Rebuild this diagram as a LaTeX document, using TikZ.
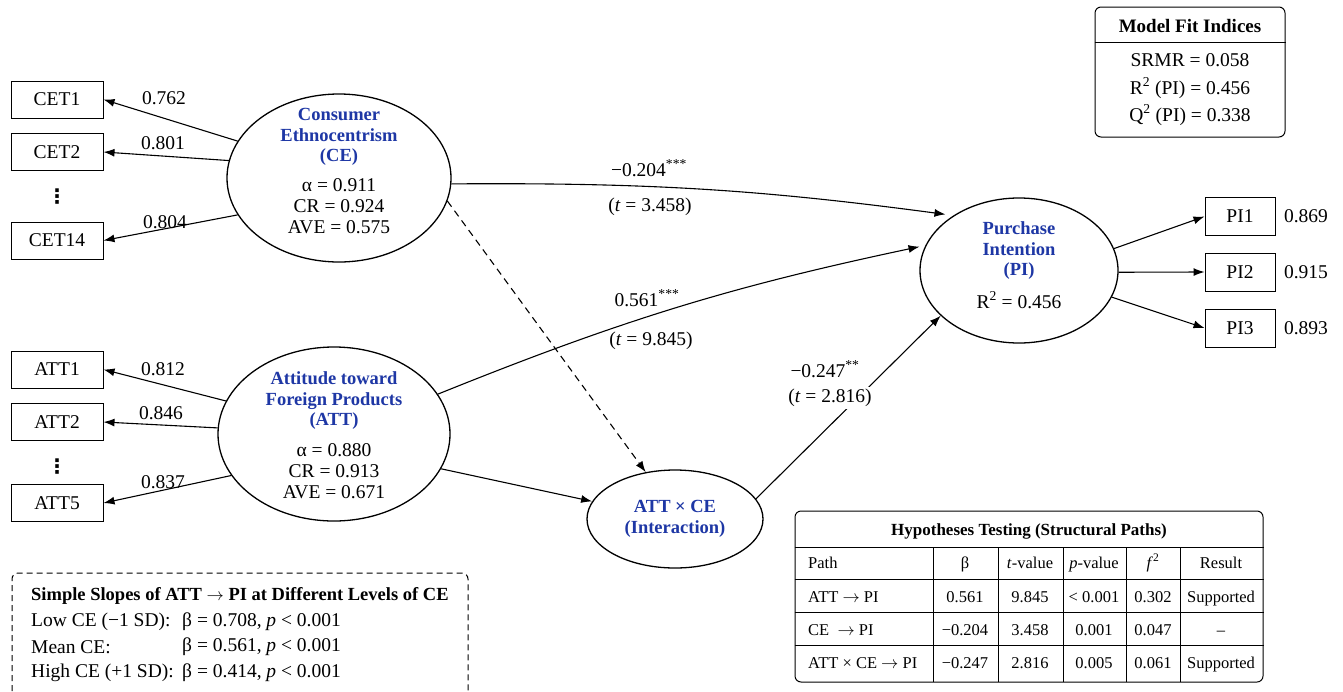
\documentclass[tikz,border=0pt]{standalone}
\usepackage{fontspec}
\setmainfont{Liberation Serif}
\newfontfamily\dejavu{DejaVu Sans}
\usetikzlibrary{shapes.geometric,arrows.meta}
\definecolor{lvblue}{RGB}{30,55,165}
\newcommand{\rarr}{\ensuremath{\rightarrow}}
\begin{document}
\begin{tikzpicture}[x=1pt,y=-1pt,
  every node/.style={font=\fontsize{19.5}{20.5}\selectfont, inner sep=1pt},
  ind/.style={draw, line width=1pt, minimum width=92pt, minimum height=37pt, inner sep=0pt},
  pind/.style={ind, minimum width=70pt, minimum height=38pt},
  lat/.style={draw, ellipse, line width=1.3pt, inner sep=0pt},
  ttl/.style={align=center, text=lvblue, font=\fontsize{18.5}{20.5}\selectfont\bfseries},
  stat/.style={align=center, font=\fontsize{19.5}{21}\selectfont},
  vdts/.style={font=\fontsize{20}{20}\selectfont\dejavu\bfseries},
  arr/.style={line width=1.1pt, -{Latex[length=11pt,width=8pt]}},
  darr/.style={arr, dash pattern=on 7pt off 5pt},
  wl/.style={fill=white, inner sep=2pt},
  panel/.style={draw, line width=1pt, rounded corners=6pt},
  cell/.style={font=\fontsize{16.5}{18}\selectfont, text height=11.5pt, text depth=3.5pt, inner sep=0pt},
  lcell/.style={cell, anchor=west},
  hline/.style={line width=0.9pt},
]
\useasboundingbox[fill=white] (0,0) rectangle (1343,691);

% ---------- CE block ----------
\node[ind] (cet1) at (57,99.5) {CET1};
\node[ind] (cet2) at (57,152) {CET2};
\node[vdts] (cdots) at (57,197) {⋮};
\node[ind] (cet14) at (57,240.5) {CET14};
\node[lat, minimum width=224pt, minimum height=168pt] (CE) at (339,178) {};
\node[ttl] (CEt) at (339,137) {Consumer\\Ethnocentrism\\(CE)};
\node[stat] (CEs) at (339,206) {α = 0.911\\CR = 0.924\\AVE = 0.575};
\draw[arr] (CE.160) -- (cet1.east);
\draw[arr] (CE.171) -- (cet2.east);
\draw[arr] (CE.200) -- (cet14.east);
\node (l1) at (164,98) {0.762};
\node (l2) at (163,143) {0.801};
\node (l3) at (165,222) {0.804};

% ---------- ATT block ----------
\node[ind] (att1) at (57,369.5) {ATT1};
\node[ind] (att2) at (57,422) {ATT2};
\node[vdts] (adots) at (57,467) {⋮};
\node[ind] (att5) at (57,503) {ATT5};
\node[lat, minimum width=232pt, minimum height=174pt] (ATT) at (334,434) {};
\node[ttl] (ATTt) at (334,401) {Attitude toward\\Foreign Products\\(ATT)};
\node[stat] (ATTs) at (334,471) {α = 0.880\\CR = 0.913\\AVE = 0.671};
\draw[arr] (ATT.163) -- (att1.east);
\draw[arr] (ATT.177) -- (att2.east);
\draw[arr] (ATT.202) -- (att5.east);
\node (l4) at (163,369) {0.812};
\node (l5) at (161,413) {0.846};
\node (l6) at (163,482) {0.837};

% ---------- Interaction ----------
\node[lat, minimum width=176pt, minimum height=98pt] (INT) at (675,519) {};
\node[ttl] (INTt) at (675,519) {ATT × CE\\(Interaction)};
\draw[darr] (CE.-12) -- (INT.122);
\draw[arr] (ATT.-18) -- (INT.168);

% ---------- PI block ----------
\node[lat, minimum width=198pt, minimum height=145pt] (PI) at (1019,270.5) {};
\node[ttl] (PIt) at (1019,251) {Purchase\\Intention\\(PI)};
\node[stat] (PIs) at (1019,300) {R\textsuperscript{2} = 0.456};
\node[pind] (pi1) at (1240,216.5) {PI1};
\node[pind] (pi2) at (1240,272) {PI2};
\node[pind] (pi3) at (1240,328) {PI3};
\draw[arr] (PI.13) -- (pi1.west);
\draw[arr] (PI.-1) -- (pi2.west);
\draw[arr] (PI.-16) -- (pi3.west);
\node (l7) at (1306,216.5) {0.869};
\node (l8) at (1306,272) {0.915};
\node (l9) at (1306,328) {0.893};

% ---------- structural paths ----------
\draw[arr, shorten >=8pt] (CE.-3) to[bend left=4] (PI.140);
\draw[arr, shorten >=6pt] (ATT.21) to[bend left=5] (PI.165);
\draw[arr] (INT.14) -- (PI.210);
\node (p1) at (649,168) {−0.204\textsuperscript{***}};
\node (p1t) at (650,207) {(\textit{t} = 3.458)};
\node (p2) at (647,298) {0.561\textsuperscript{***}};
\node (p2t) at (651,341) {(\textit{t} = 9.845)};
\node (p3) at (825,369) {−0.247\textsuperscript{**}};
\node[wl] (p3t) at (830,398) {(\textit{t} = 2.816)};

% ---------- Model fit ----------
\node[panel, minimum width=190pt, minimum height=130pt, inner sep=0pt] (fit) at (1190,72) {};
\draw[hline] (fit.west |- 0,42) -- (fit.east |- 0,42);
\node[font=\fontsize{19}{20}\selectfont\bfseries] (fitt) at (1190,26) {Model Fit Indices};
\node (fit1) at (1190,60) {SRMR = 0.058};
\node (fit2) at (1190,88) {R\textsuperscript{2} (PI) = 0.456};
\node (fit3) at (1190,115) {Q\textsuperscript{2} (PI) = 0.338};

% ---------- Hypotheses table ----------
\node[panel, minimum width=468pt, minimum height=171pt, inner sep=0pt] (tab) at (1029,596.5) {};
\foreach \yy in {547,579,612,645} \draw[hline] (tab.west |- 0,\yy) -- (tab.east |- 0,\yy);
\foreach \xx in {933,998,1063,1126,1180} \draw[hline] (\xx,547) -- (\xx,682);
\node[cell, font=\fontsize{17}{18}\selectfont\bfseries] (tabt) at (1029,531) {Hypotheses Testing (Structural Paths)};
\node[lcell] (h0) at (808,564) {Path};
\node[cell] (h1) at (965,564) {β};
\node[cell] (h2) at (1030,564) {\textit{t}-value};
\node[cell] (h3) at (1094,564) {\textit{p}-value};
\node[cell] (h4) at (1153,564) {\textit{f}\textsuperscript{2}};
\node[cell] (h5) at (1221,564) {Result};
\node[lcell] (r10) at (808,598) {ATT \rarr{} PI};
\node[cell] (r11) at (965,598) {0.561};
\node[cell] (r12) at (1030,598) {9.845};
\node[cell] (r13) at (1094,598) {< 0.001};
\node[cell] (r14) at (1153,598) {0.302};
\node[cell] (r15) at (1221,598) {Supported};
\node[lcell] (r20) at (808,631) {CE\ \ \rarr{} PI};
\node[cell] (r21) at (965,631) {−0.204};
\node[cell] (r22) at (1030,631) {3.458};
\node[cell] (r23) at (1094,631) {0.001};
\node[cell] (r24) at (1153,631) {0.047};
\node[cell] (r25) at (1221,631) {–};
\node[lcell] (r30) at (808,664) {ATT × CE \rarr{} PI};
\node[cell] (r31) at (965,664) {−0.247};
\node[cell] (r32) at (1030,664) {2.816};
\node[cell] (r33) at (1094,664) {0.005};
\node[cell] (r34) at (1153,664) {0.061};
\node[cell] (r35) at (1221,664) {Supported};

% ---------- Simple slopes ----------
\draw[line width=1pt, dash pattern=on 6pt off 4pt, rounded corners=6pt] (12,691) -- (12,573) -- (468,573) -- (468,691);
\node[anchor=west, font=\fontsize{18.5}{20}\selectfont\bfseries] (sst) at (30,596) {Simple Slopes of ATT \rarr{} PI at Different Levels of CE};
\node[anchor=west] (ss1a) at (30,622) {Low CE (−1 SD):};
\node[anchor=west] (ss1b) at (181,622) {β = 0.708, \textit{p} < 0.001};
\node[anchor=west] (ss2a) at (30,647) {Mean CE:};
\node[anchor=west] (ss2b) at (181,647) {β = 0.561, \textit{p} < 0.001};
\node[anchor=west] (ss3a) at (30,673) {High CE (+1 SD):};
\node[anchor=west] (ss3b) at (181,673) {β = 0.414, \textit{p} < 0.001};
\end{tikzpicture}
\end{document}
